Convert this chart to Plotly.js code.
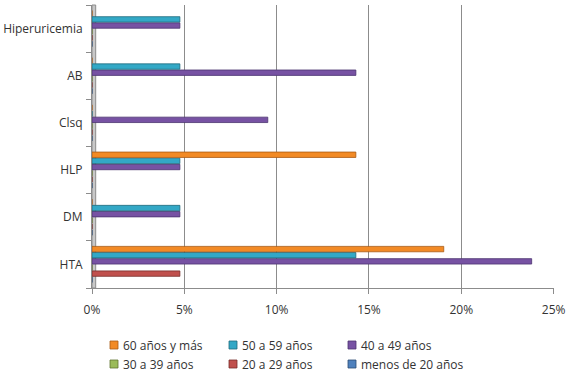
<!DOCTYPE html>
<html><head><meta charset="utf-8">
<script src="https://cdn.plot.ly/plotly-3.0.1.min.js"></script>
<style>html,body{margin:0;padding:0;background:#fff}#c{width:567px;height:373px}</style>
</head><body><div id="c"></div>
<script>
const categories = ["HTA","DM","HLP","Clsq","AB","Hiperuricemia"];
const seriesNames = ["menos de 20 años","20 a 29 años","30 a 39 años","40 a 49 años","50 a 59 años","60 años y más"];
const menos20 = [0,0,0,0,0,0];
const a20_29 = [0.0476,0,0,0,0,0];
const a30_39 = [0,0,0,0,0,0];
const a40_49 = [0.2381,0.0476,0.0476,0.0952,0.1429,0.0476];
const a50_59 = [0.1429,0.0476,0.0476,0,0.0476,0.0476];
const a60mas = [0.1905,0,0.1429,0,0,0];
const tickVals = [0,0.05,0.10,0.15,0.20,0.25];

const values = [menos20,a20_29,a30_39,a40_49,a50_59,a60mas];
const colors = ["#4F81BD","#C0504D","#9BBB59","#7752A3","#33A8C6","#F28A25"];
const lines  = ["#2C4D75","#772C2A","#5F7530","#4B3370","#1F6A7C","#A85A14"];

const traces = values.map((v,i)=>({
  type:'bar', orientation:'h', name:seriesNames[i], y:categories, x:v,
  marker:{color:colors[i], line:{color:lines[i], width:0.8}},
  hoverinfo:'x+name', showlegend:false
}));

const W=567, H=373, M={l:92, r:13, t:5, b:85};
const pw = W-M.l-M.r, ph = H-M.t-M.b;
const px2x = p => (p-M.l)/pw;
const py2y = p => (H-M.b-p)/ph;

// custom legend (Excel style: 3 columns, reversed order)
const legendOrder = [5,4,3,2,1,0];
const colX = [114,233,352], rowY = [345,364];
const shapes = [{type:'rect', xref:'paper', yref:'paper', x0:0, x1:0.008, y0:0, y1:1,
    fillcolor:'#c8c8c8', line:{color:'#8c8c8c', width:1}, layer:'below'}];
const annotations = [];
legendOrder.forEach((s,k)=>{
  const cx = colX[k%3], cy = rowY[Math.floor(k/3)];
  shapes.push({type:'rect', xref:'paper', yref:'paper',
    x0:px2x(cx-4), x1:px2x(cx+4), y0:py2y(cy+4), y1:py2y(cy-4),
    fillcolor:colors[s], line:{color:lines[s], width:0.8}});
  annotations.push({xref:'paper', yref:'paper', x:px2x(cx+7), y:py2y(cy),
    xanchor:'left', yanchor:'middle', showarrow:false, text:seriesNames[s],
    font:{size:12, color:'#333'}});
});

const layout = {
  width:W, height:H,
  margin:{l:M.l, r:M.r, t:M.t, b:M.b, autoexpand:false},
  paper_bgcolor:'#fff', plot_bgcolor:'#fff',
  barmode:'group', bargap:0.22, bargroupgap:0.12,
  font:{family:'"Open Sans", "Liberation Sans", sans-serif', size:12, color:'#333'},
  xaxis:{range:[0,0.2502], tickvals:tickVals, tickformat:'.0%',
    showgrid:true, gridcolor:'#8c8c8c', gridwidth:1,
    showline:true, linecolor:'#8c8c8c', ticks:'outside', ticklen:5, tickcolor:'#8c8c8c',
    zeroline:false, tickfont:{size:12}, ticklabelstandoff:6, ticklabeloverflow:'allow',
    fixedrange:true, automargin:false},
  yaxis:{type:'category', categoryorder:'array', categoryarray:categories,
    showgrid:false, showline:true, linecolor:'#8c8c8c', linewidth:1,
    ticks:'outside', tickson:'boundaries', ticklen:5, tickcolor:'#8c8c8c',
    ticklabelstandoff:6, tickfont:{size:12}, fixedrange:true, automargin:false},
  shapes:shapes, annotations:annotations,
  showlegend:false
};
Plotly.newPlot('c', traces, layout, {displayModeBar:false, staticPlot:true});
</script></body></html>
